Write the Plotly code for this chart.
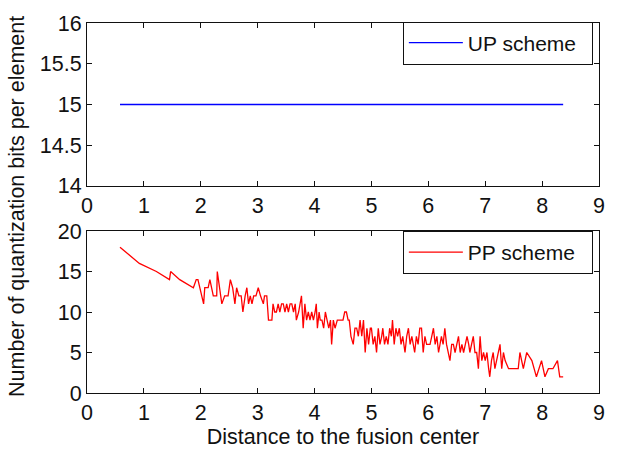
import plotly.graph_objects as go

# Distance to the fusion center (x) and quantization bits (y)
pp_x = [0.58, 0.92, 1.22, 1.45, 1.47, 1.63, 1.87, 1.92, 1.95, 2.05, 2.07, 2.13, 2.16, 2.22, 2.28, 2.29,
        2.37, 2.42, 2.48, 2.52, 2.56, 2.60, 2.63, 2.67, 2.71, 2.74, 2.78, 2.81, 2.84, 2.87, 2.90, 2.93,
        2.97, 3.01, 3.05, 3.10, 3.12, 3.16, 3.19, 3.25, 3.27, 3.30, 3.33, 3.36, 3.39, 3.42, 3.45, 3.48,
        3.51, 3.54, 3.57, 3.60, 3.63, 3.66, 3.68, 3.72, 3.77, 3.80, 3.83, 3.86, 3.89, 3.92, 3.95, 3.98,
        4.01, 4.03, 4.05, 4.08, 4.10, 4.13, 4.16, 4.19, 4.22, 4.25, 4.28, 4.30, 4.33, 4.36, 4.40, 4.44,
        4.47, 4.50, 4.53, 4.56, 4.59, 4.61, 4.64, 4.68, 4.71, 4.74, 4.77, 4.80, 4.83, 4.86, 4.89, 4.92,
        4.95, 4.98, 5.00, 5.03, 5.06, 5.09, 5.12, 5.15, 5.18, 5.20, 5.23, 5.26, 5.29, 5.32, 5.35, 5.37,
        5.40, 5.43, 5.46, 5.49, 5.52, 5.55, 5.59, 5.62, 5.65, 5.68, 5.71, 5.74, 5.76, 5.79, 5.82, 5.85,
        5.88, 5.91, 5.94, 5.97, 6.00, 6.03, 6.06, 6.09, 6.12, 6.15, 6.18, 6.20, 6.23, 6.26, 6.29, 6.32,
        6.35, 6.38, 6.41, 6.44, 6.47, 6.50, 6.53, 6.56, 6.59, 6.62, 6.65, 6.68, 6.71, 6.73, 6.76, 6.79,
        6.82, 6.85, 6.88, 6.91, 6.94, 6.97, 7.00, 7.03, 7.06, 7.08, 7.11, 7.14, 7.17, 7.20, 7.23, 7.26,
        7.29, 7.32, 7.35, 7.41, 7.50, 7.58, 7.61, 7.67, 7.73, 7.82, 7.90, 7.99, 8.05, 8.11, 8.19, 8.27,
        8.31, 8.37]
pp_y = [18, 16, 15, 14, 15, 14, 13, 14, 14, 11, 13, 13, 14, 12, 12, 15,
        11, 12, 12, 14, 13, 11, 13, 12, 12, 10, 12, 13, 11, 12, 11, 12,
        12, 13, 12, 11, 12, 12, 9, 9, 11, 10, 10, 11, 10, 11, 11, 10,
        11, 10, 11, 11, 10, 11, 9, 10, 12, 8, 11, 9, 10, 9, 10, 9,
        10, 11, 8, 10, 9, 9, 8, 10, 9, 8, 9, 6, 9, 8, 9, 9,
        9, 9, 10, 10, 9, 9, 7, 6, 8, 8, 7, 9, 7, 9, 5, 8,
        6, 8, 8, 6, 7, 5, 8, 6, 7, 8, 6, 7, 6, 8, 7, 9,
        6, 8, 7, 8, 6, 7, 5, 7, 8, 6, 7, 6, 5, 7, 6, 8,
        8, 5, 7, 6, 6, 6, 7, 8, 6, 7, 5, 6, 7, 6, 8, 6,
        5, 4, 6, 6, 5, 6, 7, 5, 6, 5, 6, 7, 6, 5, 6, 7,
        5, 5, 3, 7, 4, 5, 4, 5, 3, 2, 4, 5, 3, 4, 5, 6,
        3, 5, 4, 3, 3, 3, 5, 3, 5, 4, 2, 4, 2, 3, 3, 4,
        2, 2]

up_x = [0.58, 8.37]
up_y = [15, 15]

x_ticks = [0, 1, 2, 3, 4, 5, 6, 7, 8, 9]
top_yticks = [14, 14.5, 15, 15.5, 16]
bot_yticks = [0, 5, 10, 15, 20]

FONT = "Liberation Sans, Arial, sans-serif"

fig = go.Figure()
fig.add_trace(go.Scatter(x=up_x, y=up_y, mode="lines", name="UP scheme",
                         line=dict(color="#0000ff", width=1.4), xaxis="x", yaxis="y",
                         legend="legend"))
fig.add_trace(go.Scatter(x=pp_x, y=pp_y, mode="lines", name="PP scheme",
                         line=dict(color="#ff0000", width=1.3), xaxis="x2", yaxis="y2",
                         legend="legend2"))

axis_common = dict(showline=True, linecolor="#111", linewidth=1, mirror="ticks",
                   ticks="inside", ticklen=5, tickcolor="#111", showgrid=False,
                   zeroline=False, tickfont=dict(size=21.5, color="#111", family=FONT))

legend_common = dict(x=0.988, xanchor="right", yanchor="top", bgcolor="white",
                     bordercolor="#111", borderwidth=1, font=dict(size=21),
                     orientation="h", itemwidth=54, entrywidth=119, tracegroupgap=0)

fig.update_layout(
    width=617, height=452,
    margin=dict(l=87, r=18, t=12, b=54),
    paper_bgcolor="white", plot_bgcolor="white",
    showlegend=True,
    font=dict(family=FONT, size=21.5, color="#111"),
    xaxis=dict(domain=[0, 1], range=[0, 9], tickvals=x_ticks, anchor="y", **axis_common),
    yaxis=dict(domain=[0.5596, 1.0], range=[14, 16], tickvals=top_yticks, anchor="x",
               **axis_common),
    xaxis2=dict(domain=[0, 1], range=[0, 9], tickvals=x_ticks, anchor="y2",
                title=dict(text="Distance to the fusion center", font=dict(size=21.5), standoff=0),
                **axis_common),
    yaxis2=dict(domain=[0, 0.4378], range=[0, 20], tickvals=bot_yticks, anchor="x2",
                **axis_common),
    legend=dict(y=1.004, **legend_common),
    legend2=dict(y=0.438, **legend_common),
    annotations=[dict(text="Number of quantization bits per element", textangle=-90,
                      xref="paper", yref="paper", x=-0.137, y=0.505, xanchor="center",
                      yanchor="middle", showarrow=False, font=dict(size=21.5))],
)

fig.write_html("out.html")
